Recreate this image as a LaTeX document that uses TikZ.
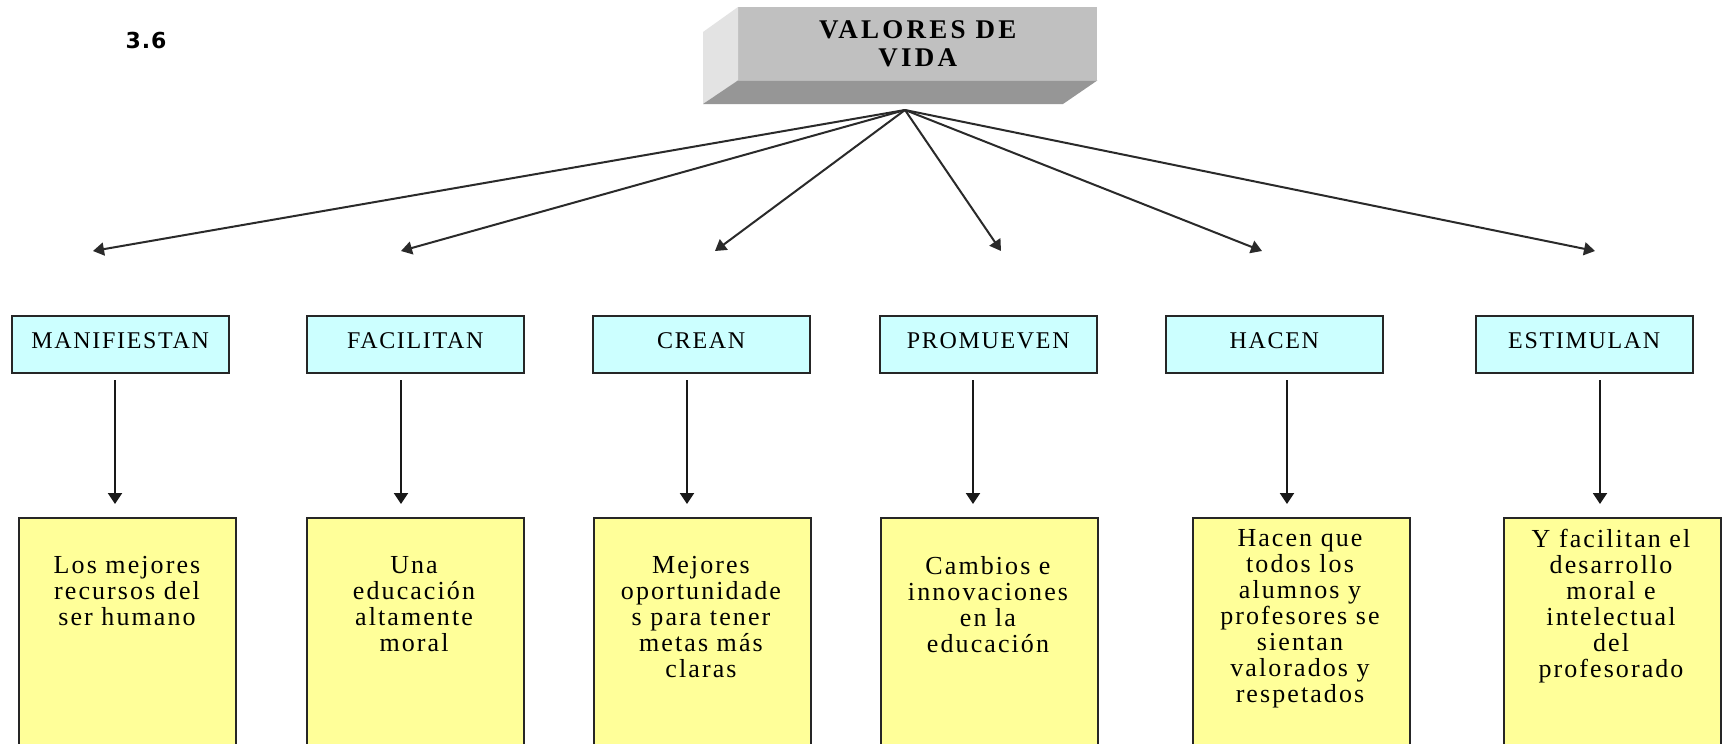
\documentclass[tikz,border=0pt]{standalone}
\usepackage{fontspec}
\setmainfont{Liberation Serif}
\newfontfamily\ylfont[LetterSpace=8]{Liberation Serif}
\newfontfamily\cyfont[LetterSpace=7]{Liberation Serif}
\newfontfamily\ttlfont[LetterSpace=12]{Liberation Serif}
\newfontfamily\numfont[LetterSpace=4]{DejaVu Sans}
\usetikzlibrary{arrows.meta}
\definecolor{cyanfill}{HTML}{CCFFFF}
\definecolor{yelfill}{HTML}{FFFF99}
\definecolor{frontgray}{HTML}{C0C0C0}
\definecolor{sidegray}{HTML}{E3E3E3}
\definecolor{botgray}{HTML}{969696}
\definecolor{linegray}{HTML}{2A2A2A}
\newcommand{\upshift}[1]{\raisebox{7pt}{#1}}
\begin{document}
\begin{tikzpicture}[x=1pt,y=-1pt,
  cyanbox/.style={draw=black!85, line width=1.5pt, fill=cyanfill, minimum width=217pt, minimum height=57pt, inner sep=0pt, anchor=north west, font=\cyfont\fontsize{24}{26}\selectfont},
  yelbox/.style={draw=black!85, line width=1.5pt, fill=yelfill, minimum width=217pt, minimum height=263pt, inner sep=0pt, anchor=north west},
  yeltext/.style={anchor=north, align=center, inner sep=0pt, font=\ylfont\fontsize{26}{26}\selectfont},
  diag/.style={draw=linegray, line width=2pt, -{Triangle[width=13pt,length=11pt]}},
  vert/.style={draw=black!90, line width=2pt, -{Triangle[width=14pt,length=11pt]}}
]
\useasboundingbox (0,0) rectangle (1727,744);
\clip (0,0) rectangle (1727,744);
\fill[white] (0,0) rectangle (1727,744);

% number
\node[font=\numfont\bfseries\fontsize{22}{24}\selectfont, inner sep=0pt] (num) at (146,40) {3.6};

% title block
\node[fill=frontgray, minimum width=359pt, minimum height=73pt, inner sep=0pt, anchor=north west, align=center,
      font=\ttlfont\bfseries\fontsize{27}{28}\selectfont] (title) at (738,7) {\raisebox{-2pt}{VALORES DE}\\\raisebox{-2pt}{VIDA}};
\fill[sidegray] (703,32) -- (title.north west) -- (title.south west) -- (703,104) -- cycle;
\fill[botgray] (703,104) -- (title.south west) -- (title.south east) -- (1063,104) -- cycle;

\coordinate (apex) at (905,110);

% diagonal arrow ends
\coordinate (t1) at (93,251);
\coordinate (t2) at (401,251);
\coordinate (t3) at (715,251);
\coordinate (t4) at (1001,251);
\coordinate (t5) at (1262,251);
\coordinate (t6) at (1595,251);
\foreach \i in {1,...,6} { \draw[diag] (apex) -- (t\i); }

% cyan boxes
\node[cyanbox] (c1) at (11,315) {\upshift{MANIFIESTAN}};
\node[cyanbox] (c2) at (306,315) {\upshift{FACILITAN}};
\node[cyanbox] (c3) at (592,315) {\upshift{CREAN}};
\node[cyanbox] (c4) at (879,315) {\upshift{PROMUEVEN}};
\node[cyanbox] (c5) at (1165,315) {\upshift{HACEN}};
\node[cyanbox] (c6) at (1475,315) {\upshift{ESTIMULAN}};

% vertical arrows
\coordinate (v1s) at (115,380); \coordinate (v1e) at (115,504);
\coordinate (v2s) at (401,380); \coordinate (v2e) at (401,504);
\coordinate (v3s) at (687,380); \coordinate (v3e) at (687,504);
\coordinate (v4s) at (973,380); \coordinate (v4e) at (973,504);
\coordinate (v5s) at (1287,380); \coordinate (v5e) at (1287,504);
\coordinate (v6s) at (1600,380); \coordinate (v6e) at (1600,504);
\foreach \i in {1,...,6} { \draw[vert] (v\i s) -- (v\i e); }

% yellow boxes
\node[yelbox] (y1) at (18,517) {};
\node[yelbox] (y2) at (306,517) {};
\node[yelbox] (y3) at (593,517) {};
\node[yelbox] (y4) at (880,517) {};
\node[yelbox] (y5) at (1192,517) {};
\node[yelbox] (y6) at (1503,517) {};

\node[yeltext] (y1t) at (127,556) {Los mejores\\recursos del\\ser humano};
\node[yeltext] (y2t) at (414,556) {Una\\educación\\altamente\\moral};
\node[yeltext] (y3t) at (701,556) {Mejores\\oportunidade\\s para tener\\metas más\\claras};
\node[yeltext] (y4t) at (988,556) {Cambios e\\innovaciones\\en la\\educación};
\node[yeltext] (y5t) at (1300,529) {Hacen que\\todos los\\alumnos y\\profesores se\\sientan\\valorados y\\respetados};
\node[yeltext] (y6t) at (1611,529) {Y facilitan el\\desarrollo\\moral e\\intelectual\\del\\profesorado};
\end{tikzpicture}
\end{document}
